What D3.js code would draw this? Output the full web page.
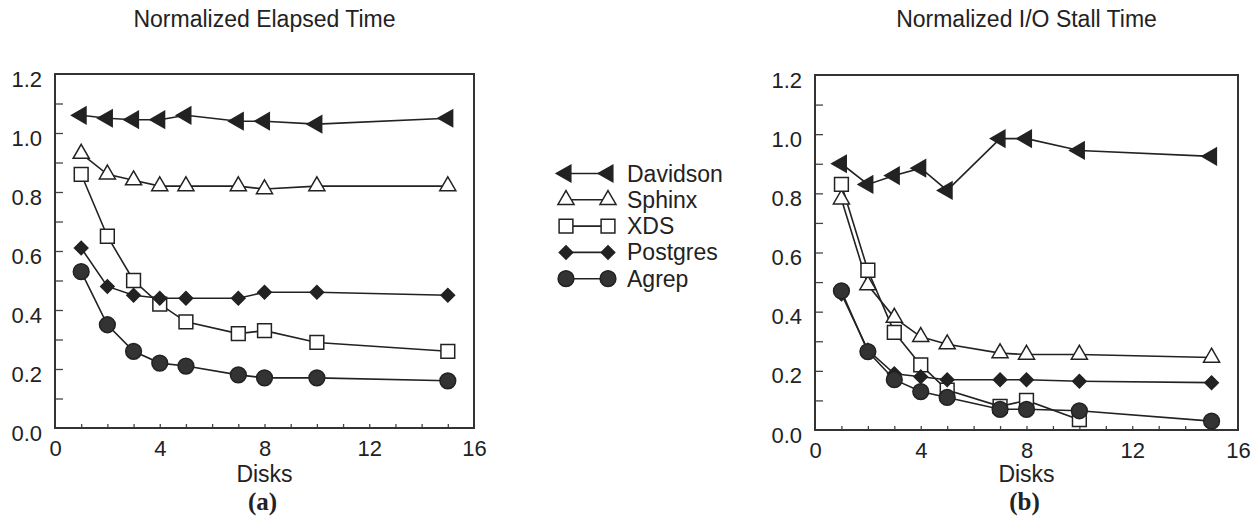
<!DOCTYPE html>
<html>
<head>
<meta charset="utf-8">
<title>Normalized Elapsed / I/O Stall Time</title>
<style>
  body { margin: 0; background: white; }
  text { font-family: "Liberation Sans", Arial, sans-serif; fill: #222; }
  .panel-tag { font-family: "Liberation Serif", "Times New Roman", serif; font-weight: bold; }
</style>
</head>
<body>
<svg id="chart"></svg>
<script src="https://d3js.org/d3.v7.min.js"></script>
<script>
// ---- data ----
var seriesNames = ["Davidson", "Sphinx", "XDS", "Postgres", "Agrep"];
var disks = [1, 2, 3, 4, 5, 7, 8, 10, 15];
var disksXdsStall = [1, 2, 3, 4, 5, 7, 8, 10];

// (a) normalized elapsed time
var elapsedDavidson = [1.06, 1.05, 1.045, 1.045, 1.06, 1.04, 1.04, 1.03, 1.05];
var elapsedSphinx   = [0.93, 0.86, 0.84, 0.82, 0.82, 0.82, 0.81, 0.82, 0.82];
var elapsedXds      = [0.86, 0.65, 0.50, 0.42, 0.36, 0.32, 0.33, 0.29, 0.26];
var elapsedPostgres = [0.61, 0.48, 0.45, 0.44, 0.44, 0.44, 0.46, 0.46, 0.45];
var elapsedAgrep    = [0.53, 0.35, 0.26, 0.22, 0.21, 0.18, 0.17, 0.17, 0.16];

// (b) normalized I/O stall time
var stallDavidson = [0.90, 0.83, 0.86, 0.885, 0.81, 0.985, 0.985, 0.945, 0.925];
var stallSphinx   = [0.78, 0.49, 0.38, 0.315, 0.29, 0.26, 0.255, 0.255, 0.245];
var stallXds      = [0.83, 0.54, 0.33, 0.22, 0.135, 0.08, 0.10, 0.035];
var stallPostgres = [0.46, 0.27, 0.19, 0.18, 0.17, 0.17, 0.17, 0.165, 0.16];
var stallAgrep    = [0.47, 0.265, 0.17, 0.13, 0.11, 0.07, 0.07, 0.065, 0.03];

var xTicks = [0, 4, 8, 12, 16];
var yTicks = [0, 0.2, 0.4, 0.6, 0.8, 1.0, 1.2];

var width = 1258, height = 521;
var ink = "#222";

var svg = d3.select("#chart").attr("width", width).attr("height", height);

// marker drawing per series
function marker(sel, name) {
  var sym, size, rot = 0, fill = ink;
  if (name == "Davidson") { sym = d3.symbolTriangle; size = 120; rot = -90; }
  if (name == "Sphinx")   { sym = d3.symbolTriangle; size = 112; fill = "white"; }
  if (name == "XDS")      { sym = d3.symbolSquare; size = 190; fill = "white"; }
  if (name == "Postgres") { sym = d3.symbolSquare; size = 90; rot = 45; }
  if (name == "Agrep")    { sym = d3.symbolCircle; size = 195; fill = "#333"; }
  sel.append("path")
    .attr("d", d3.symbol().type(sym).size(size)())
    .attr("transform", function(d) { return "translate(" + d[0] + "," + d[1] + ") rotate(" + rot + ")"; })
    .attr("fill", fill)
    .attr("stroke", ink)
    .attr("stroke-width", 1.5);
}

function panel(opts) {
  var x = d3.scaleLinear().domain([0, 16]).range([opts.left, opts.right]);
  var y = d3.scaleLinear().domain([0, 1.2]).range([opts.bottom, opts.top]);
  var g = svg.append("g");

  // inward ticks: every 0.1 on y, every disk on x
  g.append("g").attr("transform", "translate(" + opts.left + ",0)")
    .call(d3.axisLeft(y).tickValues(d3.range(1, 12).map(function(i) { return i / 10; })).tickSize(-8).tickFormat(""))
    .call(function(a) { a.select(".domain").remove(); a.selectAll("line").attr("stroke", "#444").attr("stroke-width", 1.3); });
  g.append("g").attr("transform", "translate(0," + opts.bottom + ")")
    .call(d3.axisBottom(x).tickValues(d3.range(1, 16)).tickSize(-4).tickFormat(""))
    .call(function(a) { a.select(".domain").remove(); a.selectAll("line").attr("stroke", "#444").attr("stroke-width", 1.3); });

  // labels
  g.append("g").attr("transform", "translate(" + opts.left + ",0)")
    .call(d3.axisLeft(y).tickValues(yTicks).tickSize(0).tickPadding(13).tickFormat(d3.format(".1f")))
    .call(function(a) {
      a.select(".domain").remove();
      a.selectAll("text").attr("font-size", 22).attr("dy", "0.55em").style("font-family", "Liberation Sans, Arial, sans-serif").attr("fill", ink);
    });
  g.append("g").attr("transform", "translate(0," + opts.bottom + ")")
    .call(d3.axisBottom(x).tickValues(xTicks).tickSize(0).tickPadding(12))
    .call(function(a) {
      a.select(".domain").remove();
      a.selectAll("text").attr("font-size", 22).style("font-family", "Liberation Sans, Arial, sans-serif").attr("fill", ink);
    });

  // frame
  g.append("rect")
    .attr("x", opts.left).attr("y", opts.top)
    .attr("width", opts.right - opts.left).attr("height", opts.bottom - opts.top)
    .attr("fill", "none").attr("stroke", "#333").attr("stroke-width", 2);

  var line = d3.line().x(function(d) { return x(d[0]); }).y(function(d) { return y(d[1]); });

  opts.series.forEach(function(s) {
    var pts = s.xs.map(function(v, i) { return [v, s.ys[i]]; });
    g.append("path").datum(pts).attr("d", line)
      .attr("fill", "none").attr("stroke", ink).attr("stroke-width", 1.6);
  });
  opts.series.forEach(function(s) {
    var pts = s.xs.map(function(v, i) { return [x(v), y(s.ys[i])]; });
    var mg = g.append("g");
    pts.forEach(function(p) { marker(mg.append("g").datum(p), s.name); });
  });

  var cx = (opts.left + opts.right) / 2;
  g.append("text").attr("x", cx).attr("y", 27).attr("text-anchor", "middle")
    .attr("font-size", 23).text(opts.title);
  g.append("text").attr("x", cx).attr("y", 482).attr("text-anchor", "middle")
    .attr("font-size", 23).text("Disks");
  g.append("text").attr("class", "panel-tag").attr("x", cx - 2).attr("y", 510).attr("text-anchor", "middle")
    .attr("font-size", 25).text(opts.tag);
}

panel({
  left: 55, right: 474, top: 74, bottom: 428,
  title: "Normalized Elapsed Time", tag: "(a)",
  series: [
    { name: "Davidson", xs: disks, ys: elapsedDavidson },
    { name: "Sphinx",   xs: disks, ys: elapsedSphinx },
    { name: "XDS",      xs: disks, ys: elapsedXds },
    { name: "Postgres", xs: disks, ys: elapsedPostgres },
    { name: "Agrep",    xs: disks, ys: elapsedAgrep }
  ]
});

panel({
  left: 815, right: 1238, top: 75, bottom: 430,
  title: "Normalized I/O Stall Time", tag: "(b)",
  series: [
    { name: "Davidson", xs: disks, ys: stallDavidson },
    { name: "Sphinx",   xs: disks, ys: stallSphinx },
    { name: "XDS",      xs: disksXdsStall, ys: stallXds },
    { name: "Postgres", xs: disks, ys: stallPostgres },
    { name: "Agrep",    xs: disks, ys: stallAgrep }
  ]
});

// legend
var legend = svg.append("g");
seriesNames.forEach(function(name, i) {
  var cy = 173.5 + i * 26.3;
  legend.append("line").attr("x1", 566).attr("x2", 608).attr("y1", cy).attr("y2", cy)
    .attr("stroke", ink).attr("stroke-width", 1.6);
  marker(legend.append("g").datum([566, cy]), name);
  marker(legend.append("g").datum([608, cy]), name);
  legend.append("text").attr("x", 627).attr("y", cy + 8).attr("font-size", 23).text(name);
});
</script>
</body>
</html>
